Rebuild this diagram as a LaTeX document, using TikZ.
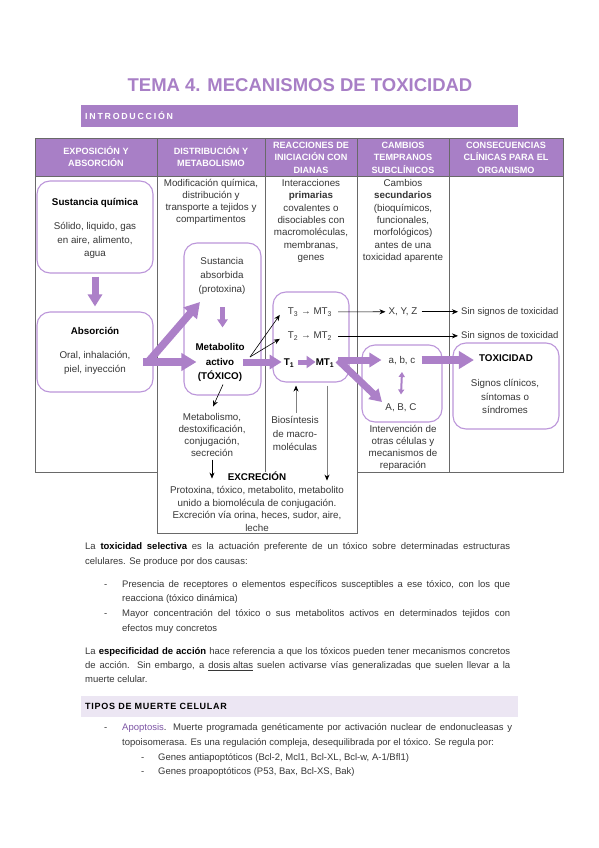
\documentclass[tikz,border=0pt]{standalone}
\usepackage{fontspec}
\setmainfont{Liberation Sans}
\usetikzlibrary{arrows.meta,calc}
\definecolor{purp}{RGB}{168,127,198}
\definecolor{boxc}{RGB}{188,150,218}
\definecolor{arrc}{RGB}{172,128,200}
\definecolor{txtc}{RGB}{55,55,55}
\definecolor{gridc}{RGB}{105,105,105}
\definecolor{lav}{RGB}{236,230,243}
\definecolor{apoc}{RGB}{125,85,165}
\begin{document}
\begin{tikzpicture}[x=1pt,y=-1pt,
  box/.style={draw=boxc, line width=1.1pt, rounded corners=13pt, inner sep=0pt},
  grid/.style={draw=gridc, line width=0.7pt},
  hd/.style={font=\bfseries\fontsize{9.1}{12.4}\selectfont, text=white, align=center, anchor=base, inner sep=0pt},
  tx/.style={font=\fontsize{9.8}{12}\selectfont, text=txtc, align=center, anchor=base, inner sep=0pt},
  bt/.style={font=\fontsize{9.5}{12}\selectfont, text=txtc, anchor=base west, inner sep=0pt},
  fatA/.style={draw=arrc, line width=7.5pt, -{Triangle[width=17pt,length=15pt]}},
  fatB/.style={draw=arrc, line width=7pt, -{Triangle[width=14pt,length=12pt]}},
  medA/.style={draw=arrc, line width=5pt, -{Triangle[width=12pt,length=9pt]}},
  smallA/.style={draw=arrc, line width=5pt, -{Triangle[width=10pt,length=8pt]}},
  dblA/.style={draw=arrc, line width=2pt, {Triangle[width=6pt,length=5pt]}-{Triangle[width=6pt,length=5pt]}},
  thinA/.style={draw=black, line width=0.6pt, -{Stealth[length=6pt,width=5pt]}},
  grayA/.style={draw=gray, line width=0.7pt, -{Stealth[length=6pt,width=5pt,black]}}
]
\fill[white] (0,0) rectangle (599,848);
\useasboundingbox (0,0) rectangle (599,848);

% title
\node[font=\bfseries\fontsize{18.5}{20}\selectfont, text=purp, inner sep=0pt] (title) at (300,85) {TEMA 4. MECANISMOS DE TOXICIDAD};
\node[fill=purp, minimum width=437pt, minimum height=22pt, anchor=north west, inner sep=0pt] (ibar) at (81,105) {};
\node[font=\bfseries\fontsize{8.8}{10}\selectfont\addfontfeature{LetterSpace=20}, text=white, anchor=base west, inner sep=0pt] (itxt) at (85,119.5) {INTRODUCCIÓN};

% table
\fill[purp] (35,138) rectangle (563,176);
\draw[grid] (35,138) -- (563,138);
\draw[grid] (35,176) -- (563,176);
\draw[grid, line width=1pt] (35,138) -- (35,472) -- (157,472);
\draw[grid] (157,138) -- (157,533) -- (357,533) -- (357,138);
\draw[grid, line width=1pt] (357,472) -- (563,472) -- (563,138);
\draw[grid] (265,138) -- (265,472);
\draw[grid] (449,138) -- (449,472);

% (multi-line nodes: base = last line)
\node[hd] (h1) at (96,166.9) {EXPOSICIÓN Y\\ABSORCIÓN};
\node[hd] (h2) at (211,166.9) {DISTRIBUCIÓN Y\\METABOLISMO};
\node[hd] (h3) at (311,173.3) {REACCIONES DE\\INICIACIÓN CON\\DIANAS};
\node[hd] (h4) at (403,173.3) {CAMBIOS\\TEMPRANOS\\SUBCLÍNICOS};
\node[hd] (h5) at (506,173.3) {CONSECUENCIAS\\CLÍNICAS PARA EL\\ORGANISMO};

% column top texts
\node[tx] (c2t) at (211,222.5) {Modificación química,\\distribución y\\transporte a tejidos y\\compartimentos};
\node[tx, font=\fontsize{9.8}{12.3}\selectfont] (c3t) at (311,260.3) {Interacciones\\\textbf{primarias}\\covalentes o\\disociables con\\macromoléculas,\\membranas,\\genes};
\node[tx, font=\fontsize{9.8}{12.3}\selectfont] (c4t) at (403,260.3) {Cambios\\\textbf{secundarios}\\(bioquímicos,\\funcionales,\\morfológicos)\\antes de una\\toxicidad aparente};

% boxes
\node[box, minimum width=116pt, minimum height=92pt] (bA) at (95,227) {};
\node[box, minimum width=116pt, minimum height=80pt] (bB) at (95,352) {};
\node[box, minimum width=77pt, minimum height=152pt] (bC) at (222.5,319) {};
\node[box, minimum width=76pt, minimum height=90pt] (bD) at (311,337) {};
\node[box, minimum width=80pt, minimum height=77pt] (bE) at (402,383.5) {};
\node[box, minimum width=106pt, minimum height=86pt] (bF) at (506,386) {};

% box texts
\node[tx, font=\bfseries\fontsize{9.8}{12}\selectfont, text=black] (sq) at (95,205.5) {Sustancia química};
\node[tx, font=\fontsize{9.8}{13.5}\selectfont] (sqd) at (95,256.5) {Sólido, liquido, gas\\en aire, alimento,\\agua};
\node[tx, font=\bfseries\fontsize{9.8}{12}\selectfont, text=black] (abs) at (95,334.5) {Absorción};
\node[tx, font=\fontsize{9.8}{14}\selectfont] (absd) at (95,372.5) {Oral, inhalación,\\piel, inyección};
\node[tx, font=\fontsize{9.8}{14}\selectfont] (sabs) at (222,292.5) {Sustancia\\absorbida\\(protoxina)};
\node[tx, font=\bfseries\fontsize{9.8}{14.5}\selectfont, text=black] (met) at (220,379.5) {Metabolito\\activo\\(TÓXICO)};
\node[tx] (t3) at (310,314.5) {T\textsubscript{3} → MT\textsubscript{3}};
\node[tx] (t2) at (310,338.5) {T\textsubscript{2} → MT\textsubscript{2}};
\node[tx, font=\bfseries\fontsize{9.8}{12}\selectfont, text=black] (t1) at (289,365.5) {T\textsubscript{1}};
\node[tx, font=\bfseries\fontsize{9.8}{12}\selectfont, text=black] (mt1) at (325,365.5) {MT\textsubscript{1}};
\node[tx] (xyz) at (403,314.5) {X, Y, Z};
\node[bt] (sin1) at (461,314.5) {Sin signos de toxicidad};
\node[bt] (sin2) at (461,338.5) {Sin signos de toxicidad};
\node[tx] (abc) at (402,363.5) {a, b, c};
\node[tx] (ABC) at (401,410.5) {A, B, C};
\node[tx, font=\bfseries\fontsize{9.8}{12}\selectfont, text=black] (tox) at (506,361.5) {TOXICIDAD};
\node[tx, font=\fontsize{9.8}{13.5}\selectfont] (toxd) at (505,413.5) {Signos clínicos,\\síntomas o\\síndromes};

% lower column texts
\node[tx] (metd) at (212,456.5) {Metabolismo,\\destoxificación,\\conjugación,\\secreción};
\node[tx, font=\fontsize{9.8}{13.5}\selectfont] (bios) at (295,450.5) {Biosíntesis\\de macro-\\moléculas};
\node[tx] (interv) at (403,468.5) {Intervención de\\otras células y\\mecanismos de\\reparación};
\node[tx, font=\bfseries\fontsize{9.8}{12}\selectfont, text=black] (exc) at (257,480.5) {EXCRECIÓN};
\node[tx, font=\fontsize{9.8}{12.6}\selectfont] (excd) at (257,531.3) {Protoxina, tóxico, metabolito, metabolito\\unido a biomolécula de conjugación.\\Excreción vía orina, heces, sudor, aire,\\leche};

% thick arrows
\draw[fatB] ([yshift=-3pt]bA.south) -- ([yshift=5pt]bB.north);
\coordinate (jn) at (143,362);
\coordinate (ds) at (148,362);
\coordinate (dt) at (200,302);
\draw[fatA] (ds) -- (dt);
\draw[fatA] (jn) -- ($(bC.west |- jn)+(13,0)$);
\draw[smallA] ($(bC.north)+(0,65)$) -- ($(bC.north)+(0,85)$);
\coordinate (mo) at (243,362);
\draw[fatB] (mo) -- ($(t1.west |- mo)+(-2,0)$);
\coordinate (fork) at (250,357);
\draw[thinA] (fork) -- ($(t3.west)+(-8,3)$);
\draw[thinA] (fork) -- ($(t2.west)+(-8,3)$);
\draw[medA] ($(t1.east |- mo)+(4,0)$) -- ($(mt1.west |- mo)+(0,0)$);
\coordinate (mo2) at (338,360);
\draw[fatB] (mo2) -- ($(abc.west |- mo2)+(-7,0)$);
\draw[fatB] (mo2) -- (382,402);
\draw[dblA] ($(abc.south)+(0,7)$) -- ($(ABC.north)+(0,-9)$);
\draw[fatA] ($(abc.east |- mo2)+(6,0)$) -- ($(tox.west |- mo2)+(-5,0)$);

% thin arrows
\draw[thinA] ($(t3.east)+(6,0)$) -- ($(xyz.west)+(-3,0)$);
\draw[thinA] ($(xyz.east)+(4,0)$) -- ($(sin1.west |- xyz.east)+(-3,0)$);
\draw[thinA] ($(t2.east)+(6,0)$) -- ($(sin2.west |- t2.east)+(-3,0)$);
\draw[thinA] ($(bC.south)+(0.5,-11)$) -- ($(bC.south)+(-9.5,11)$);
\draw[thinA] ($(bC.south)+(-10.5,64)$) -- ($(bC.south)+(-10.5,83)$);
\draw[grayA] ($(bD.south)+(-15,30)$) -- ($(bD.south)+(-15,3)$);
\draw[grayA] ($(bD.south)+(16,3)$) -- ($(bD.south)+(16,98)$);

% body text
\node[bt] (p1a) at (85,549.5) {\makebox[425pt][s]{La \textbf{\color{black}toxicidad selectiva} es la actuación preferente de un tóxico sobre determinadas estructuras}};
\node[bt] (p1b) at (85,564.5) {celulares. Se produce por dos causas:};
\node[bt] (d1) at (104,587.5) {-};
\node[bt] (b1a) at (122,587.5) {\makebox[388pt][s]{Presencia de receptores o elementos específicos susceptibles a ese tóxico, con los que}};
\node[bt] (b1b) at (122,601.5) {reacciona (tóxico dinámica)};
\node[bt] (d2) at (104,616.5) {-};
\node[bt] (b2a) at (122,616.5) {\makebox[388pt][s]{Mayor concentración del tóxico o sus metabolitos activos en determinados tejidos con}};
\node[bt] (b2b) at (122,631.5) {efectos muy concretos};
\node[bt] (p2a) at (85,654.5) {\makebox[425pt][s]{La \textbf{\color{black}especificidad de acción} hace referencia a que los tóxicos pueden tener mecanismos concretos}};
\node[bt] (p2b) at (85,668.5) {\makebox[425pt][s]{de acción. Sin embargo, a \underline{dosis altas} suelen activarse vías generalizadas que suelen llevar a la}};
\node[bt] (p2c) at (85,682.5) {muerte celular.};

\node[fill=lav, minimum width=437pt, minimum height=21pt, anchor=north west, inner sep=0pt] (tbar) at (81,696) {};
\node[font=\bfseries\fontsize{9}{11}\selectfont\addfontfeature{LetterSpace=8}, text=black, anchor=base west, inner sep=0pt] (ttxt) at (85,709.5) {TIPOS DE MUERTE CELULAR};

\node[bt] (d3) at (104,730.5) {-};
\node[bt] (a1) at (122,730.5) {\makebox[390pt][s]{\textcolor{apoc}{Apoptosis}. Muerte programada genéticamente por activación nuclear de endonucleasas y}};
\node[bt] (a2) at (122,745.5) {topoisomerasa. Es una regulación compleja, desequilibrada por el tóxico. Se regula por:};
\node[bt] (d4) at (141,760.5) {-};
\node[bt] (a3) at (158,760.5) {Genes antiapoptóticos (Bcl-2, Mcl1, Bcl-XL, Bcl-w, A-1/Bfl1)};
\node[bt] (d5) at (141,774.5) {-};
\node[bt] (a4) at (158,774.5) {Genes proapoptóticos (P53, Bax, Bcl-XS, Bak)};
\end{tikzpicture}
\end{document}
